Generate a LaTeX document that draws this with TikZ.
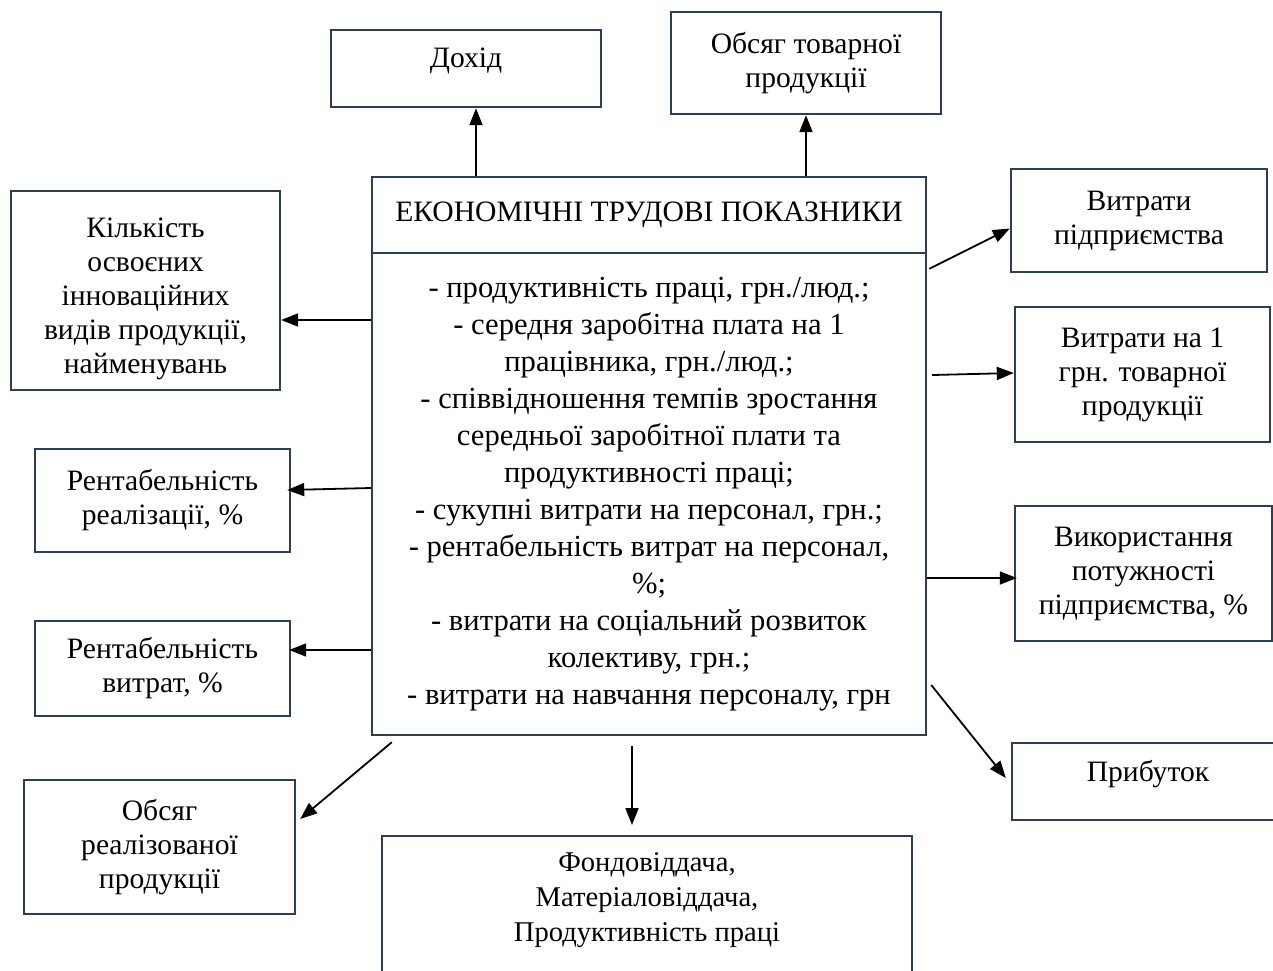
\documentclass[tikz,border=0pt]{standalone}
\usepackage{fontspec}
\setmainfont{Liberation Serif}
\usetikzlibrary{arrows.meta,calc}
\definecolor{boxline}{HTML}{2E3F55}
\begin{document}
\begin{tikzpicture}[x=0.5pt,y=-0.5pt,
  box/.style={draw=boxline, line width=1.2pt, align=center, inner sep=0pt,
    font=\fontsize{14.8pt}{17pt}\selectfont},
  arr/.style={draw=black, line width=0.9pt, -{Triangle[length=8.5pt,width=6.5pt]}}]
\useasboundingbox (0,0) rectangle (1273,970);
\clip (0,0) rectangle (1273,970);

% central block
\node[box, minimum width=277pt, minimum height=38pt] (head) at (649,215)
  {ЕКОНОМІЧНІ ТРУДОВІ ПОКАЗНИКИ};
\node[box, minimum width=277pt, minimum height=241pt,
  font=\fontsize{15.3pt}{18.5pt}\selectfont] (body) at (649,494)
  {- продуктивність праці, грн./люд.;\\
   - середня заробітна плата на 1\\
   працівника, грн./люд.;\\
   - співвідношення темпів зростання\\
   середньої заробітної плати та\\
   продуктивності праці;\\
   - сукупні витрати на персонал, грн.;\\
   - рентабельність витрат на персонал,\\
   \%;\\
   - витрати на соціальний розвиток\\
   колективу, грн.;\\
   - витрати на навчання персоналу, грн};

% top boxes
\node[box, minimum width=135pt, minimum height=38.5pt, text depth=11pt] (dohid) at (466,68.5) {Дохід};
\node[box, minimum width=135pt, minimum height=51pt] (otov) at (806,63) {Обсяг товарної\\продукції};

% left boxes
\node[box, minimum width=134.5pt, minimum height=99.5pt] (kilk) at (145.5,290.5)
  {\rule{0pt}{18pt}Кількість\\освоєних\\інноваційних\\видів продукції,\\найменувань};
\node[box, minimum width=127.5pt, minimum height=51.5pt] (rreal) at (162.5,500.5)
  {Рентабельність\\реалізації, \%};
\node[box, minimum width=127.5pt, minimum height=47.5pt] (rvytr) at (162.5,668.5)
  {Рентабельність\\витрат, \%};
\node[box, minimum width=135.5pt, minimum height=67pt] (obreal) at (159.5,847)
  {Обсяг\\реалізованої\\продукції};

% bottom box
\node[box, anchor=north] (fondo) at (647,835)
  {\parbox[b][72pt][t]{265pt}{\centering\fontsize{14.3pt}{17.5pt}\selectfont\vspace{8pt}%
   Фондовіддача,\\Матеріаловіддача,\\Продуктивність праці}};

% right boxes
\node[box, minimum width=128pt, minimum height=51.5pt] (vpid) at (1139,220.5)
  {Витрати\\підприємства};
\node[box, minimum width=127.5pt, minimum height=67.5pt] (v1grn) at (1142.5,374.5)
  {Витрати на 1\\грн. товарної\\продукції};
\node[box, minimum width=128.5pt, minimum height=67.5pt] (vykor) at (1143.5,573.5)
  {Використання\\потужності\\підприємства, \%};
\node[box, minimum width=136pt, minimum height=38.5pt, text depth=11pt] (prib) at (1148,781.5)
  {Прибуток};

% connectors
\draw[arr] (head.north -| 476,0) -- (dohid.south -| 476,0);
\draw[arr] (head.north -| 806,0) -- (otov.south -| 806,0);
\draw[arr] (body.west |- 0,320) -- (kilk.east |- 0,320);
\draw[arr] (body.west |- 0,488) -- ($(rreal.east |- 0,490)+(-4,0)$);
\draw[arr] (body.west |- 0,650) -- ($(rvytr.east |- 0,650)+(-2,0)$);
\draw[arr] ($(body.south west)+(21,6)$) -- ($(obreal.east |- 0,819)+(4,0)$);
\draw[arr] ($(body.south)+(-17,10)$) -- ($(fondo.north)+(-15,-10)$);
\draw[arr] ($(body.north east)+(2,17)$) -- ($(vpid.west)+(0,8)$);
\draw[arr] ($(body.east |- 0,375)+(5,0)$) -- (v1grn.west |- 0,373);
\draw[arr] (body.east |- 0,578) -- ($(vykor.west |- 0,578)+(3,0)$);
\draw[arr] ($(body.east |- 0,685)+(4,0)$) -- ($(prib.west |- 0,778)+(-5,0)$);
\end{tikzpicture}
\end{document}
